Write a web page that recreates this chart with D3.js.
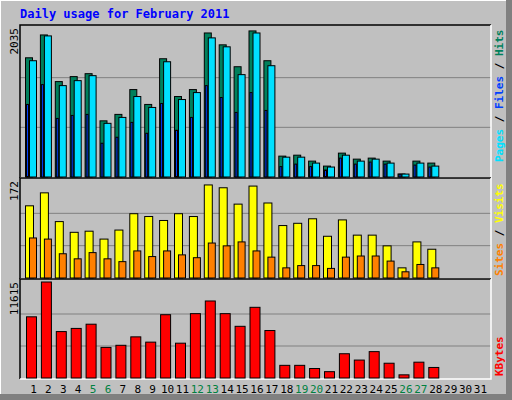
<!DOCTYPE html>
<html>
<head>
<meta charset="utf-8">
<script src="https://cdn.jsdelivr.net/npm/d3@7"></script>
<style>
  body { margin: 0; background: #fff; }
  text { font-family: "DejaVu Sans Mono", monospace; }
</style>
</head>
<body>
<svg id="chart" width="512" height="400"></svg>
<script>
const days = d3.range(1, 32);
const weekend = [5, 6, 12, 13, 19, 20, 26, 27];

const hits  = [1628,1940,1303,1371,1411,767,855,1194,991,1615,1099,1194,1967,1805,1506,1995,1588,285,298,217,149,326,244,258,217,41,217,190];
const files = [1588,1927,1248,1316,1384,733,814,1099,950,1574,1058,1153,1900,1778,1398,1967,1520,271,271,190,136,298,217,244,190,40,190,149];
const pages = [991,1262,800,841,855,461,543,746,597,1004,638,814,1248,1086,882,1153,909,142,176,142,95,258,176,204,176,38,163,136];

const visits = [128,151,100,81,83,69,85,114,109,102,114,109,165,160,131,163,133,93,97,105,74,103,76,76,57,18,64,51];
const sites  = [71,69,43,34,45,34,29,48,38,48,41,36,62,57,64,48,37,18,22,22,17,37,39,39,30,11,24,18];

const kbytes = [7403,11615,5616,5999,6509,3701,3957,4978,4340,7658,4212,7786,9318,7786,6254,8552,5744,1532,1532,1149,766,2936,2170,3191,1787,383,1915,1276];

const maxHits = 2035, maxVisits = 172, maxKb = 11615;

const svg = d3.select("#chart");
const W = 512, H = 400;
const left = 20, right = 491;

// outer bevelled frame
svg.append("rect").attr("width", W).attr("height", H).attr("fill", "#c0c0c0");
svg.append("path").attr("d", `M0,${H} V0 H${W}`).attr("stroke", "#fff").attr("stroke-width", 2).attr("fill", "none");
svg.append("rect").attr("x", W - 6).attr("y", 0).attr("width", 6).attr("height", H).attr("fill", "#808080");
svg.append("rect").attr("x", 0).attr("y", H - 6).attr("width", W).attr("height", 6).attr("fill", "#808080");

svg.append("text").attr("x", 20).attr("y", 18)
  .attr("font-size", 12).attr("font-weight", "bold").attr("fill", "#0000ff")
  .text("Daily usage for February 2011");

const x = d3.scaleBand().domain(days).range([25, 25 + 31 * 14.9]).padding(0);

const panels = [
  { top: 25, bottom: 178, max: maxHits, label: "2035" },
  { top: 178, bottom: 279, max: maxVisits, label: "172" },
  { top: 279, bottom: 379, max: maxKb, label: "11615" }
];

panels.forEach(p => {
  p.y = d3.scaleLinear().domain([0, p.max]).range([p.bottom - 1, p.top + 3]);
  svg.append("rect").attr("x", left).attr("y", p.top).attr("width", right - left).attr("height", p.bottom - p.top)
    .attr("fill", "#c0c0c0");
  [1 / 3, 2 / 3].forEach(f => {
    svg.append("line").attr("x1", left).attr("x2", right)
      .attr("y1", p.y(p.max * f)).attr("y2", p.y(p.max * f))
      .attr("stroke", "#808080").attr("stroke-width", 1);
  });
  svg.append("path").attr("d", `M${left},${p.bottom} V${p.top} H${right}`)
    .attr("stroke", "#000").attr("stroke-width", 1.5).attr("fill", "none");
  svg.append("path").attr("d", `M${left},${p.bottom} H${right} V${p.top}`)
    .attr("stroke", "#fff").attr("stroke-width", 1.5).attr("fill", "none");
  svg.append("text").attr("transform", `translate(18,${p.top + 3}) rotate(-90)`)
    .attr("text-anchor", "end").attr("font-size", 11).attr("fill", "#000").text(p.label);
});

function bars(data, panel, offset, width, color) {
  svg.append("g").selectAll("rect").data(data).join("rect")
    .attr("x", (d, i) => x(i + 1) + offset)
    .attr("width", width)
    .attr("y", d => panel.y(d))
    .attr("height", d => panel.bottom - 1 - panel.y(d))
    .attr("fill", color).attr("stroke", "#000").attr("stroke-width", 1);
}

bars(hits, panels[0], 0.5, 7, "#00805c");
bars(files, panels[0], 4.5, 7, "#00e0ff");
bars(pages, panels[0], 1.5, 2, "#0040ff");
bars(visits, panels[1], 0.5, 8, "#ffff00");
bars(sites, panels[1], 4.5, 7, "#ff8000");
bars(kbytes, panels[2], 1.5, 10, "#ff0000");

// right side legends
function legend(parts, yBottom) {
  const t = svg.append("text").attr("transform", `translate(503,${yBottom}) rotate(-90)`)
    .attr("font-size", 11).attr("font-weight", "bold");
  parts.forEach(([s, c]) => t.append("tspan").attr("fill", c).text(s));
}
legend([["Pages", "#00e0ff"], [" / ", "#000"], ["Files", "#0040ff"], [" / ", "#000"], ["Hits", "#00805c"]], 162);
legend([["Sites", "#ff8000"], [" / ", "#000"], ["Visits", "#ffff00"]], 276);
legend([["KBytes", "#ff0000"]], 376);

svg.append("g").selectAll("text").data(days).join("text")
  .attr("x", d => x(d) + x.bandwidth() / 2 + 1)
  .attr("y", 393)
  .attr("text-anchor", "middle").attr("font-size", 11)
  .attr("fill", d => weekend.includes(d) ? "#008040" : "#000")
  .text(d => d);
</script>
</body>
</html>
